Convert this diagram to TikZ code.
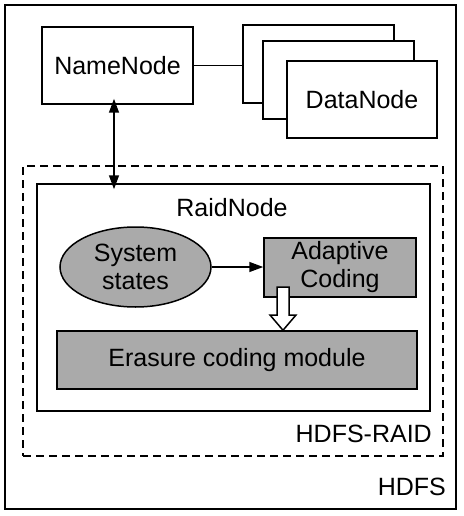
\documentclass[tikz,border=0pt]{standalone}
\usepackage{fontspec}
\setmainfont{Liberation Sans}
\usetikzlibrary{shapes.geometric,arrows.meta,calc}
\definecolor{boxgray}{RGB}{170,170,170}
\begin{document}
\begin{tikzpicture}[x=1pt,y=-1pt,
  font=\fontsize{25}{29}\selectfont,
  frame/.style={draw=black,line width=1.5pt,rectangle,inner sep=0pt},
  grayframe/.style={frame,fill=boxgray},
  lbl/.style={inner sep=0pt,anchor=base east},
  tip/.style={-{Triangle[length=14pt,width=10pt]}},
]
\useasboundingbox (0,0) rectangle (463,516);
% outer HDFS box
\node[frame,minimum width=451pt,minimum height=504pt] (hdfs) at (230.5,257) {};
\node[lbl] (hdfslbl) at (446,495) {HDFS};
% dashed HDFS-RAID box
\node[frame,dash pattern=on 8pt off 5pt,minimum width=420pt,minimum height=290pt] (raid) at (233,311) {};
\node[lbl] (raidlbl) at (432,442) {HDFS-RAID};
% RaidNode box
\node[frame,minimum width=393pt,minimum height=227pt] (raidnode) at (233.5,297.5) {};
\node[inner sep=0pt,anchor=base] (raidnodelbl) at (232,216) {RaidNode};
% NameNode
\node[frame,minimum width=151pt,minimum height=77pt] (nn) at (117.5,65.5) {NameNode};
% DataNodes (stacked)
\node[frame,fill=white,minimum width=151pt,minimum height=78pt] (dn1) at (318.5,64) {};
\node[frame,fill=white,minimum width=151pt,minimum height=78pt] (dn2) at (338.5,80) {};
\node[frame,fill=white,minimum width=150pt,minimum height=77pt] (dn3) at (362,99.5) {DataNode};
\draw[line width=1.5pt] (nn.east) -- (nn.east -| dn1.west);
% double arrow NameNode <-> RaidNode
\coordinate (ax) at (114,0);
\draw[line width=1.5pt,{Triangle[length=14pt,width=10pt]}-{Triangle[length=14pt,width=10pt]},
  shorten <=-6pt, shorten >=-6pt] (nn.south -| ax) -- (raidnode.north -| ax);
% System states
\node[grayframe,ellipse,minimum width=151pt,minimum height=80pt,align=center] (sys) at (135.5,267) {System\\[-1pt]states};
% Adaptive Coding
\node[grayframe,minimum width=152pt,minimum height=59pt,align=center] (ac) at (340,267.5) {Adaptive\\[-1pt]Coding};
% Erasure coding module
\node[grayframe,minimum width=360pt,minimum height=58pt] (ec) at (237,360) {Erasure coding module};
% arrow system -> adaptive
\draw[line width=1.5pt,tip] (sys.east) -- (ac.west |- sys.east);
% hollow block arrow
\coordinate (ha) at (283,287);
\draw[line width=1.5pt,fill=white,line join=miter]
  ($(ha)+(-6,0)$) -- ($(ha)+(6,0)$) -- ($(ha)+(6,28)$) -- ($(ha)+(13,28)$)
  -- (ha |- ec.north) -- ($(ha)+(-13,28)$) -- ($(ha)+(-6,28)$) -- cycle;
\end{tikzpicture}
\end{document}
